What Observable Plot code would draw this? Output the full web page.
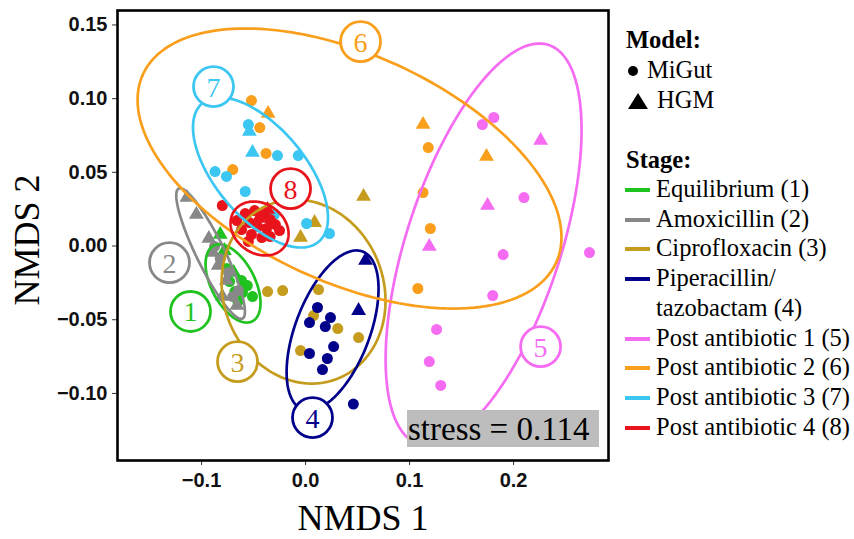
<!DOCTYPE html>
<html><head><meta charset="utf-8">
<script src="https://cdn.jsdelivr.net/npm/d3@7"></script>
<script src="https://cdn.jsdelivr.net/npm/@observablehq/plot@0.6"></script>
<style>
body{margin:0;background:#fff;}
#wrap{position:relative;width:854px;height:539px;overflow:hidden;background:#fff;}
#chart{position:absolute;left:0;top:0;}
.serif{position:absolute;font-family:"Liberation Serif","Times New Roman",serif;color:#000;white-space:nowrap;}
.leg{font-size:24.5px;line-height:28px;}
.sw{position:absolute;width:25px;height:4px;}
#chart svg g[aria-label$="tick label"] text{font-size:20px !important;font-weight:bold;}
</style></head><body>
<div id="wrap"><div id="chart"></div></div>
<script>
// ---- data ----
const stages = ["Equilibrium (1)","Amoxicillin (2)","Ciprofloxacin (3)","Piperacillin/tazobactam (4)","Post antibiotic 1 (5)","Post antibiotic 2 (6)","Post antibiotic 3 (7)","Post antibiotic 4 (8)"];
const stageNumbers = ["1","2","3","4","5","6","7","8"];
const stageColors = ["#1fc21f","#888888","#c69c1e","#00008b","#f56cf2","#f99f1c","#3cc6f2","#e8131b"];
const models = ["MiGut","HGM"];

const equilibrium = {
  MiGut: [[-0.0615,-0.0234],[-0.056,-0.0268],[-0.073,-0.0241],[-0.068,-0.0309],[-0.0606,-0.0316],[-0.051,-0.0343],[-0.065,-0.0377],[-0.076,-0.0153]],
  HGM: [[-0.082,0.0078],[-0.078,-0.0031],[-0.069,-0.018]]
};
const amoxicillin = {
  MiGut: [[-0.0875,-0.0003],[-0.082,-0.0085],[-0.074,-0.018],[-0.0645,-0.0302],[-0.070,-0.0343]],
  HGM: [[-0.114,0.0329],[-0.105,0.0214],[-0.093,0.0051],[-0.089,-0.0044],[-0.084,-0.0132],[-0.076,-0.0234],[-0.080,-0.0343],[-0.066,-0.0404]]
};
const ciprofloxacin = {
  MiGut: [[-0.0365,-0.0309],[-0.022,-0.0302],[0.0125,-0.0295],[0.0077,-0.0472],[0.031,-0.056],[0.051,-0.0621],[-0.0048,-0.0709]],
  HGM: [[0.0558,0.0336],[0.0087,0.0159],[-0.0048,0.0058]]
};
const piperacillin = {
  MiGut: [[0.0115,-0.0417],[0.0038,-0.0519],[0.024,-0.0485],[0.019,-0.0546],[0.027,-0.0682],[0.0038,-0.0729],[0.021,-0.0763],[0.0163,-0.0838],[0.046,-0.1072]],
  HGM: [[0.0577,-0.0098],[0.051,-0.0438]]
};
const postAntibiotic1 = {
  MiGut: [[0.170,0.0824],[0.181,0.0872],[0.210,0.0329],[0.190,-0.0058],[0.273,-0.0044],[0.180,-0.0336],[0.126,-0.0566],[0.119,-0.0784],[0.130,-0.0946]],
  HGM: [[0.226,0.0716],[0.175,0.0275],[0.119,-0.0003]]
};
const postAntibiotic2 = {
  MiGut: [[-0.052,0.0987],[-0.044,0.0804],[-0.038,0.0628],[-0.070,0.0519],[0.118,0.0668],[0.113,0.0363],[0.120,0.0119],[0.108,-0.0288]],
  HGM: [[-0.036,0.0899],[0.113,0.0824],[0.174,0.0607]]
};
const postAntibiotic3 = {
  MiGut: [[-0.055,0.0824],[-0.027,0.0614],[-0.007,0.0614],[-0.087,0.0505],[-0.076,0.0472],[-0.058,0.037],[0.001,0.0153],[0.023,0.0085],[-0.030,0.0214]],
  HGM: [[-0.054,0.0777],[-0.051,0.0634]]
};
const postAntibiotic4 = {
  MiGut: [[-0.080,0.0275],[-0.058,0.022],[-0.049,0.0241],[-0.040,0.0214],[-0.034,0.018],[-0.054,0.0159],[-0.046,0.0132],[-0.0375,0.0119],[-0.029,0.0146],[-0.0615,0.0112],[-0.052,0.0078],[-0.042,0.0058],[-0.025,0.0105],[-0.034,0.0064],[-0.055,0.0031],[-0.066,0.0173]],
  HGM: [[-0.045,0.0187],[-0.0365,0.0248]]
};
const stageData = [equilibrium, amoxicillin, ciprofloxacin, piperacillin, postAntibiotic1, postAntibiotic2, postAntibiotic3, postAntibiotic4];

// ellipse summaries (centre, spread, correlation) per stage
const ellCx  = [-0.0697,-0.0913,-0.0019,0.026, 0.1712,0.0423,-0.0433,-0.0442];
const ellCy  = [-0.0254,-0.0051,-0.0309,-0.0573,0.001, 0.0526,0.0499, 0.0119];
const ellSdx = [0.0264, 0.033, 0.0788, 0.0442,0.0942,0.2038,0.0649, 0.0279];
const ellSdy = [0.0265, 0.0443,0.0624, 0.0543,0.1364,0.095, 0.0509, 0.0183];
const ellR   = [-0.5,   -0.89, -0.1,   0.52,  0.57,  -0.49, -0.6,   -0.2];

// number badges
const labelX = [-0.1106,-0.1308,-0.0654,0.0067,0.226,0.0529,-0.0885,-0.0144];
const labelY = [-0.0444,-0.0112,-0.0784,-0.1164,-0.0682,0.1387,0.1082,0.039];

const xTicks = [-0.1,0,0.1,0.2];
const yTicks = [-0.10,-0.05,0,0.05,0.10,0.15];
const stressText = "stress = 0.114";

// ---- build tables ----
const points = [];
stageData.forEach((d,i)=>models.forEach(m=>d[m].forEach(([x,y])=>points.push({stage:stages[i],model:m,x,y}))));
const ellipseRows = [];
stages.forEach((s,i)=>{
  const n=160, r=ellR[i];
  for(let k=0;k<=n;k++){
    const t=2*Math.PI*k/n;
    ellipseRows.push({stage:s,
      x: ellCx[i]+ellSdx[i]*Math.cos(t),
      y: ellCy[i]+ellSdy[i]*(r*Math.cos(t)+Math.sqrt(1-r*r)*Math.sin(t))});
  }
});
const badges = stages.map((s,i)=>({stage:s,label:stageNumbers[i],x:labelX[i],y:labelY[i]}));

const chart = Plot.plot({
  width: 615, height: 539,
  marginLeft: 117, marginRight: 7, marginTop: 10, marginBottom: 79,
  style: {fontFamily:"'Liberation Sans', Arial, sans-serif", fontSize:"20px", fontWeight:"bold", color:"#111", background:"#fff"},
  x: {domain:[-0.1808,0.2913], label:null},
  y: {domain:[-0.1455,0.1598], label:null},
  color: {domain: stages, range: stageColors},
  symbol: {domain: models, range: ["circle","triangle"]},
  marks: [
    Plot.axisX({ticks:xTicks, tickFormat:d3.format(".1f"), tickSize:5, tickPadding:7, label:null, stroke:"#333", fontSize:20}),
    Plot.axisY({ticks:yTicks, tickFormat:d3.format(".2f"), tickSize:5, tickPadding:5, label:null, stroke:"#333", fontSize:20}),
    Plot.dot(points, {x:"x", y:"y", fill:"stage", symbol:"model", r:5.5, stroke:null}),
    Plot.line(ellipseRows, {x:"x", y:"y", z:"stage", stroke:"stage", strokeWidth:2.7, clip:true}),
    Plot.dot(badges, {x:"x", y:"y", r:20, fill:"white", stroke:"stage", strokeWidth:2.8}),
    Plot.text(badges, {x:"x", y:"y", text:"label", fill:"stage", fontSize:28, fontWeight:"normal", fontFamily:"'Liberation Serif', serif", dy:1}),
    Plot.frame({stroke:"#000", strokeWidth:2.6})
  ]
});
const wrap = document.getElementById("wrap");
document.getElementById("chart").appendChild(chart);

function addDiv(cls, html, css){
  const d=document.createElement("div"); d.className=cls; d.innerHTML=html;
  Object.assign(d.style, css); wrap.appendChild(d); return d;
}
// axis titles
addDiv("serif","NMDS 1",{left:"263px",width:"200px",textAlign:"center",top:"498px",fontSize:"36px",lineHeight:"40px"});
addDiv("serif","NMDS 2",{left:"-73px",width:"200px",textAlign:"center",top:"220px",fontSize:"36px",lineHeight:"40px",transform:"rotate(-90deg)"});
// stress box
addDiv("serif",stressText,{left:"407px",top:"410px",width:"192px",height:"37px",background:"#bdbdbd",fontSize:"33px",lineHeight:"38px",paddingLeft:"1px",boxSizing:"border-box"});

// legend
addDiv("serif leg","<b>Model:</b>",{left:"626px",top:"26px"});
addDiv("serif leg",'<svg width="12" height="12" style="position:absolute;left:1px;top:9px"><circle cx="6" cy="6" r="5" fill="#000"/></svg><span style="position:absolute;left:21px">'+models[0]+'</span>',{left:"626px",top:"56px",width:"120px",height:"28px"});
addDiv("serif leg",'<svg width="22" height="18" style="position:absolute;left:1px;top:6px"><path d="M11,1 L21,17 L1,17 Z" fill="#000"/></svg><span style="position:absolute;left:31px">'+models[1]+'</span>',{left:"626px",top:"86px",width:"120px",height:"28px"});
addDiv("serif leg","<b>Stage:</b>",{left:"626px",top:"146px"});
const rowCenters = [189,218.7,248.4,278.1,337.5,367.2,396.9,426.6];
stages.forEach((s,i)=>{
  const c=rowCenters[i];
  const sw=document.createElement("div"); sw.className="sw";
  Object.assign(sw.style,{left:"625px",top:(c-1)+"px",background:stageColors[i]}); wrap.appendChild(sw);
  if(i===3){
    addDiv("serif leg","Piperacillin/",{left:"656px",top:(c-14)+"px"});
    addDiv("serif leg","tazobactam (4)",{left:"656px",top:(c+29.7-14)+"px"});
  } else {
    addDiv("serif leg",s,{left:"656px",top:(c-14)+"px"});
  }
});
</script>
</body></html>
